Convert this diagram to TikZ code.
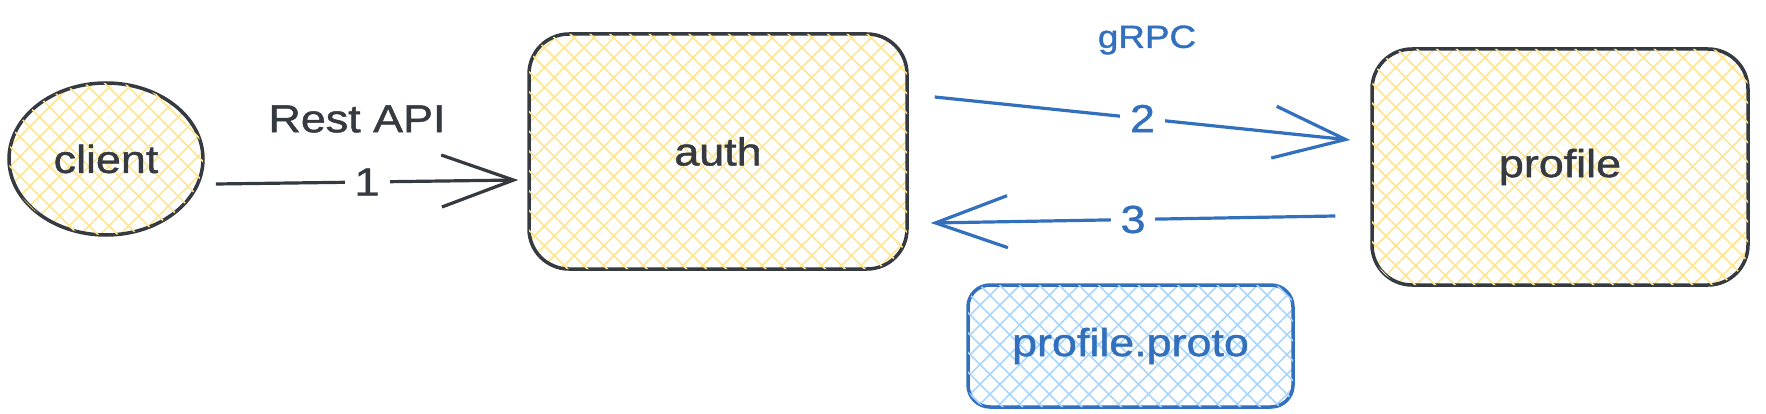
\documentclass[tikz,border=0pt]{standalone}
\usepackage{fontspec}
\setmainfont{Liberation Sans}[FakeStretch=1.15,FakeBold=1.2]
\usetikzlibrary{shapes.geometric,arrows.meta,patterns.meta}
\definecolor{ink}{HTML}{343A40}
\definecolor{blueink}{HTML}{3270BE}
\definecolor{yel}{HTML}{FFE58F}
\definecolor{lblue}{HTML}{A8D6FF}
\tikzset{
  yhatch/.style={pattern={Lines[angle=45,distance=14pt,line width=1.6pt]}, pattern color=yel,
    postaction={pattern={Lines[angle=-45,distance=14pt,line width=1.6pt]}, pattern color=yel}},
  bhatch/.style={pattern={Lines[angle=45,distance=14pt,line width=1.6pt]}, pattern color=lblue,
    postaction={pattern={Lines[angle=-45,distance=14pt,line width=1.6pt]}, pattern color=lblue}},
  txt/.style={font=\fontsize{39}{44}\selectfont, text=ink},
  darkbox/.style={draw=ink, line width=3.5pt, txt, inner sep=0pt},
  bluebox/.style={draw=blueink, line width=3.5pt, txt, text=blueink, inner sep=0pt},
  darrow/.style={draw=ink, line width=3.2pt, -{Straight Barb[length=72pt,width=52pt]}},
  barrow/.style={draw=blueink, line width=3.2pt, -{Straight Barb[length=72pt,width=52pt]}},
  numlbl/.style={txt, fill=white, inner xsep=10pt, inner ysep=2pt}
}
\begin{document}
\begin{tikzpicture}[x=1pt,y=1pt]
\useasboundingbox (0,0) rectangle (1766,-414);
% nodes
\node[ellipse, darkbox, yhatch, minimum width=194pt, minimum height=152pt] (client) at (106,-159) {client};
\node[rectangle, rounded corners=40pt, darkbox, yhatch, minimum width=378pt, minimum height=235pt] (auth) at (718,-151.5) {auth};
\node[rectangle, rounded corners=40pt, darkbox, yhatch, minimum width=376pt, minimum height=236pt] (profile) at (1560,-167) {profile};
\node[rectangle, rounded corners=22pt, bluebox, bhatch, minimum width=325pt, minimum height=122pt] (proto) at (1130.5,-346) {profile.proto};
% free labels
\node[txt] (rest) at (357,-119) {Rest API};
\node[txt, text=blueink, font=\fontsize{32}{36}\selectfont] (grpc) at (1147,-40) {gRPC};
% connectors
\draw[darrow] ([xshift=12pt,yshift=-25pt]client.east) -- node[numlbl] (n1) {1} ([xshift=-9pt,yshift=-28.5pt]auth.west);
\draw[barrow] ([xshift=26pt,yshift=54.5pt]auth.east) -- node[numlbl, text=blueink] (n2) {2} ([xshift=-20pt,yshift=27pt]profile.west);
\draw[barrow] ([xshift=-35pt,yshift=-49pt]profile.west) -- node[numlbl, text=blueink] (n3) {3} ([xshift=22pt,yshift=-71.5pt]auth.east);
\end{tikzpicture}
\end{document}
